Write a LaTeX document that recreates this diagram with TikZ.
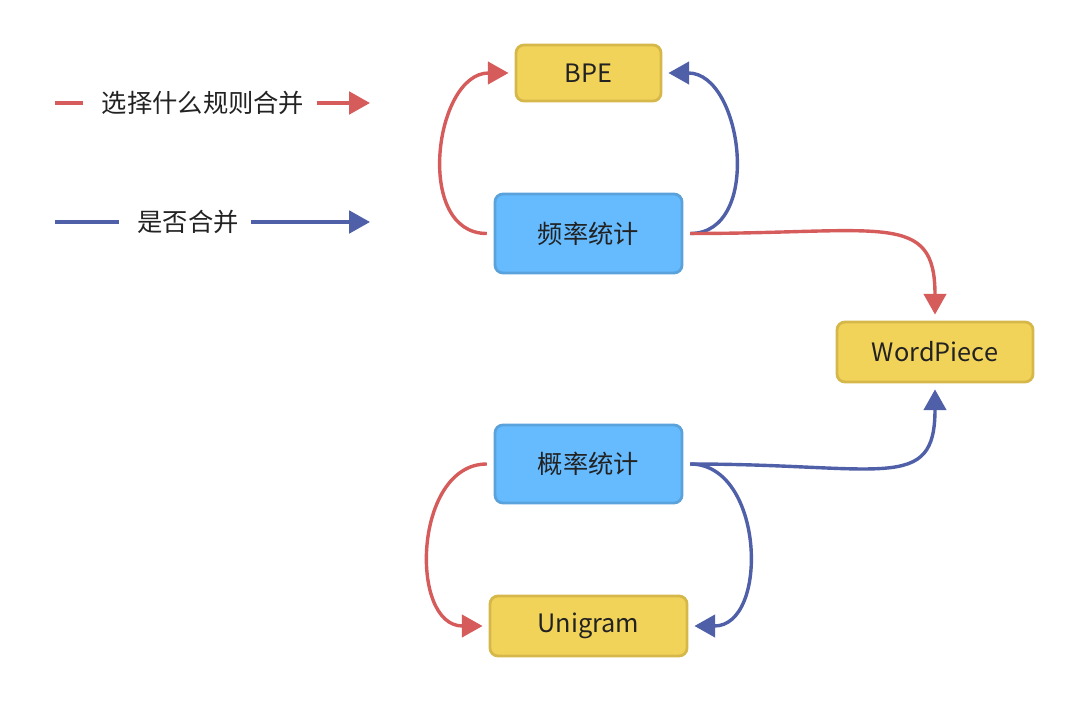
\documentclass[tikz,border=0pt]{standalone}
\usepackage{fontspec}
\setmainfont{Noto Sans CJK SC}
\usetikzlibrary{arrows.meta}
\definecolor{redline}{HTML}{D65C5C}
\definecolor{blueline}{HTML}{4F5FA8}
\definecolor{boxyellow}{HTML}{F2D35A}
\definecolor{edgeyellow}{HTML}{D6B84A}
\definecolor{boxblue}{HTML}{66BBFF}
\definecolor{edgeblue}{HTML}{5AA2DC}
\definecolor{textgray}{HTML}{222222}
\newcommand{\labelfont}{\fontsize{18pt}{22pt}\selectfont}
\tikzstyle{algobox} = [rectangle, rounded corners=0.2cm,
line width=0.07cm,
fill=boxyellow, draw=edgeyellow,
minimum height=1.5cm,
text=textgray, font=\labelfont]
\tikzstyle{statbox} = [rectangle, rounded corners=0.2cm,
line width=0.07cm,
fill=boxblue, draw=edgeblue,
minimum width=4.675cm,
minimum height=1.95cm,
text=textgray, font=\labelfont]
\tikzstyle{legendtext} = [inner sep=0.3cm, text=textgray, font=\labelfont]
\tikzstyle{redarrow} = [line width=0.085cm, draw=redline, -{Triangle[length=0.52cm,width=0.56cm]}, shorten >=0.15cm]
\tikzstyle{bluearrow} = [line width=0.085cm, draw=blueline, -{Triangle[length=0.52cm,width=0.56cm]}, shorten >=0.15cm]

\begin{document}
\begin{tikzpicture}[x=0.025cm, y=-0.025cm]
\useasboundingbox (0,0) rectangle (1080,703);

% legend
\coordinate (r0) at (55,103);
\node (rlabel) [legendtext] at (203,103) {选择什么规则合并};
\coordinate (r1) at (370,103);
\coordinate (b0) at (55,222);
\node (blabel) [legendtext] at (188,222) {是否合并};
\coordinate (b1) at (370,222);

\draw [redarrow, -] (r0) -- (rlabel.west);
\draw [redarrow, shorten >=0cm] (rlabel.east) -- (r1);
\draw [bluearrow, -] (b0) -- (blabel.west);
\draw [bluearrow, shorten >=0cm] (blabel.east) -- (b1);

% boxes
\node (bpe) [algobox, minimum width=3.625cm, minimum height=1.4cm] at (588.5,73) {BPE};
\node (freq) [statbox, minimum height=1.975cm] at (588.5,233.5) {频率统计};
\node (wp) [algobox, minimum width=4.9cm] at (935,352) {WordPiece};
\node (prob) [statbox] at (588.5,464) {概率统计};
\node (uni) [algobox, minimum width=4.925cm] at (588.5,626) {Unigram};

% connectors
\draw [redarrow, shorten <=0.17cm] (freq.west) .. controls +(-80,0) and +(-80,0) .. (bpe.west);
\draw [bluearrow, shorten <=0.17cm] (freq.east) .. controls +(80,0) and +(80,0) .. (bpe.east);
\draw [redarrow, shorten <=0.17cm] (freq.east) .. controls +(200,0) and +(0,-110) .. (wp.north);
\draw [bluearrow, shorten <=0.17cm] (prob.east) .. controls +(200,0) and +(0,110) .. (wp.south);
\draw [redarrow, shorten <=0.17cm] (prob.west) .. controls +(-80,0) and +(-80,0) .. (uni.west);
\draw [bluearrow, shorten <=0.17cm] (prob.east) .. controls +(81,0) and +(81,0) .. (uni.east);

\end{tikzpicture}
\end{document}
